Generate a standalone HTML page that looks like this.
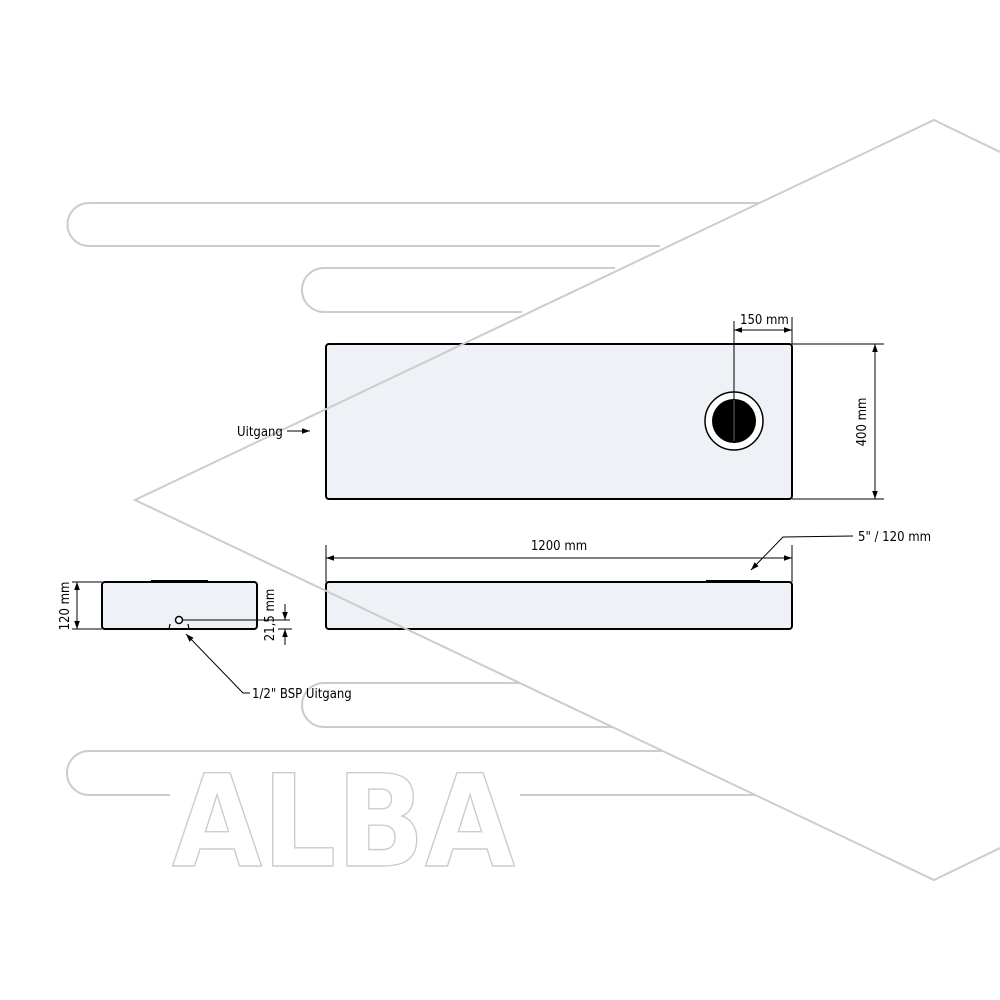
<!DOCTYPE html>
<html><head><meta charset="utf-8"><style>html,body{margin:0;padding:0;background:#fff}svg{display:block}</style></head>
<body>
<svg width="1000" height="1000" viewBox="0 0 1000 1000" xmlns="http://www.w3.org/2000/svg" font-family="'DejaVu Sans Condensed','Liberation Sans',sans-serif">
<defs>
<marker id="a" viewBox="0 0 10 10" refX="10" refY="5" markerWidth="10" markerHeight="8" orient="auto-start-reverse" markerUnits="userSpaceOnUse"><path d="M0,1.5 L10,5 L0,8.5 Z" fill="#000"/></marker>
</defs>
<!-- background logo bars -->
<g fill="none" stroke="#cccccc" stroke-width="2">
<path d="M760,203 H89 A21.5,21.5 0 0 0 89,246 H660"/>
<path d="M615,268 H324 A22,22 0 0 0 324,312 H522"/>
<path d="M520,683 H324 A22,22 0 0 0 324,727 H612"/>
<path d="M663,751 H89 A22,22 0 0 0 89,795 H170 M520,795 H755"/>
<text x="172" y="866" font-family="'DejaVu Sans Condensed',sans-serif" font-weight="bold" font-size="128" textLength="343" lengthAdjust="spacingAndGlyphs" fill="#fff" stroke="#cccccc" stroke-width="1.4">ALBA</text>
</g>
<!-- top view -->
<rect x="326" y="344" width="466" height="155" rx="3" fill="#eef1f5" stroke="#000" stroke-width="2"/>
<!-- front view -->
<rect x="326" y="582" width="466" height="47" rx="3" fill="#eef1f5" stroke="#000" stroke-width="2"/>
<!-- side view -->
<rect x="102" y="582" width="155" height="47" rx="3" fill="#eef1f5" stroke="#000" stroke-width="2"/>
<!-- chevron over rects -->
<polyline points="1000,152 934,120 135,500 934,880 1000,848" fill="none" stroke="#cccccc" stroke-width="2"/>

<circle cx="734" cy="421" r="29" fill="#fff" stroke="#000" stroke-width="1.5"/>
<circle cx="734" cy="421" r="22" fill="#000"/>
<line x1="734" y1="321" x2="734" y2="441" stroke="#000" stroke-width="1" />
<line x1="734" y1="400" x2="734" y2="441" stroke="#666" stroke-width="1"/>
<line x1="792" y1="317" x2="792" y2="344" stroke="#000" stroke-width="1"/>
<line x1="734" y1="330" x2="792" y2="330" stroke="#000" stroke-width="1" marker-start="url(#a)" marker-end="url(#a)"/>
<text x="740" y="324" font-size="13">150 mm</text>
<line x1="792" y1="344" x2="884" y2="344" stroke="#000" stroke-width="1"/>
<line x1="792" y1="499" x2="884" y2="499" stroke="#000" stroke-width="1"/>
<line x1="875" y1="344" x2="875" y2="499" stroke="#000" stroke-width="1" marker-start="url(#a)" marker-end="url(#a)"/>
<text transform="translate(866,422) rotate(-90)" text-anchor="middle" font-size="13">400 mm</text>
<text x="237" y="436" font-size="13">Uitgang</text>
<line x1="287" y1="431" x2="310" y2="431" stroke="#000" stroke-width="1" marker-end="url(#a)"/>

<line x1="706" y1="581" x2="760" y2="581" stroke="#000" stroke-width="2"/>
<line x1="326" y1="545" x2="326" y2="582" stroke="#000" stroke-width="1"/>
<line x1="792" y1="545" x2="792" y2="582" stroke="#000" stroke-width="1"/>
<line x1="326" y1="558" x2="792" y2="558" stroke="#000" stroke-width="1" marker-start="url(#a)" marker-end="url(#a)"/>
<text x="559" y="550" text-anchor="middle" font-size="13">1200 mm</text>
<polyline points="853,536 783,537 751,570" fill="none" stroke="#000" stroke-width="1" marker-end="url(#a)"/>
<text x="858" y="541" font-size="13">5" / 120 mm</text>

<line x1="151" y1="581" x2="208" y2="581" stroke="#000" stroke-width="2"/>
<line x1="72" y1="582" x2="102" y2="582" stroke="#000" stroke-width="1"/>
<line x1="72" y1="629" x2="102" y2="629" stroke="#000" stroke-width="1"/>
<line x1="77" y1="582" x2="77" y2="629" stroke="#000" stroke-width="1" marker-start="url(#a)" marker-end="url(#a)"/>
<text transform="translate(69,606) rotate(-90)" text-anchor="middle" font-size="13">120 mm</text>
<circle cx="179" cy="620" r="3.5" fill="#fff" stroke="#000" stroke-width="1.5"/>
<path d="M170,624 L169,629 M188,624 L189,629" stroke="#000" stroke-width="1.2"/>
<line x1="183" y1="620" x2="290" y2="620" stroke="#000" stroke-width="1"/>
<line x1="278" y1="629" x2="292" y2="629" stroke="#000" stroke-width="1"/>
<line x1="285" y1="604" x2="285" y2="620" stroke="#000" stroke-width="1" marker-end="url(#a)"/>
<line x1="285" y1="645" x2="285" y2="629" stroke="#000" stroke-width="1" marker-end="url(#a)"/>
<text transform="translate(274,615) rotate(-90)" text-anchor="middle" font-size="13">21,5 mm</text>
<polyline points="250,693 243,693 186,634" fill="none" stroke="#000" stroke-width="1" marker-end="url(#a)"/>
<text x="252" y="698" font-size="13">1/2" BSP Uitgang</text>
</svg>
</body></html>
